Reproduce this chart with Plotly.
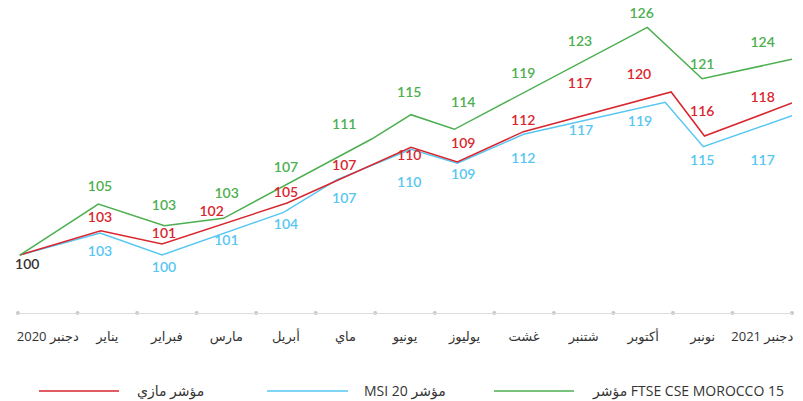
import plotly.graph_objects as go

# ---------------- data ----------------
months = ["2020 دجنبر", "يناير", "فبراير", "مارس", "أبريل", "ماي", "يونيو",
          "يوليوز", "غشت", "شتنبر", "أكتوبر", "نونبر", "2021 دجنبر"]

series_names = ["مؤشر مازي", "MSI 20 مؤشر", "مؤشر FTSE CSE MOROCCO 15"]
colors = ["#d9262e", "#56c6f2", "#4caf50"]

# line vertices (x in month units along the axis, y = index level)
masi_x = [0.03, 1.39, 2.42, 4.52, 6.60, 7.38, 8.49, 10.97, 11.53, 13.0]
masi_y = [100.0, 102.77, 101.26, 105.94, 112.29, 110.62, 114.08, 118.61, 113.58, 117.35]

msi_x = [0.03, 1.38, 2.42, 4.46, 5.36, 6.60, 7.38, 8.49, 10.87, 11.51, 13.0]
msi_y = [100.0, 102.51, 100.0, 104.87, 108.6, 112.07, 110.47, 113.78, 117.43, 112.36, 115.90]

ftse_x = [0.03, 1.35, 2.46, 3.45, 5.94, 6.60, 7.33, 10.57, 11.49, 13.0]
ftse_y = [100.0, 105.82, 103.34, 104.19, 113.24, 116.02, 114.35, 125.99, 120.12, 122.34]

# monthly values shown as labels
masi_vals = [103, 101, 102, 105, 107, 110, 109, 112, 117, 120, 116, 118]
msi_vals = [103, 100, 101, 104, 107, 110, 109, 112, 117, 119, 115, 117]
ftse_vals = [105, 103, 103, 107, 111, 115, 114, 119, 123, 126, 121, 124]
base_val = 100

# label anchors (data units)
masi_lx = [1.377, 2.452, 3.253, 4.501, 5.480, 6.572, 7.479, 8.487, 9.439, 10.430, 11.493, 12.507]
masi_ly = [104.19, 102.36, 104.87, 107.04, 110.08, 111.22, 112.64, 115.22, 119.49, 120.51, 116.29, 117.89]
msi_lx = [1.377, 2.452, 3.499, 4.501, 5.480, 6.572, 7.479, 8.487, 9.456, 10.447, 11.493, 12.507]
msi_ly = [100.31, 98.44, 101.56, 103.39, 106.36, 108.11, 109.05, 110.96, 114.12, 115.15, 110.70, 110.70]
ftse_lx = [1.377, 2.452, 3.505, 4.501, 5.480, 6.572, 7.479, 8.487, 9.439, 10.475, 11.493, 12.507]
ftse_ly = [107.73, 105.51, 106.93, 109.90, 114.81, 118.46, 117.32, 120.66, 124.28, 127.43, 121.66, 124.17]
base_lx, base_ly = 0.156, 98.82

Y_MIN, Y_MAX = 93.38, 129.11
X_MIN, X_MAX = 0, 13

fig = go.Figure()

lines = [(masi_x, masi_y), (msi_x, msi_y), (ftse_x, ftse_y)]
labels = [(masi_lx, masi_ly, masi_vals), (msi_lx, msi_ly, msi_vals), (ftse_lx, ftse_ly, ftse_vals)]

# draw blue, red, green order (green on top)
for i in [1, 0, 2]:
    xs, ys = lines[i]
    fig.add_trace(go.Scatter(x=xs, y=ys, mode="lines", name=series_names[i],
                             line=dict(color=colors[i], width=1.5),
                             showlegend=False, hoverinfo="skip", cliponaxis=False))

LABEL_FONT = "Lato, Open Sans, sans-serif"
for i in range(3):
    lx, ly, vals = labels[i]
    fig.add_trace(go.Scatter(x=lx, y=ly, mode="text", text=[str(v) for v in vals],
                             textposition="middle center",
                             textfont=dict(family=LABEL_FONT, size=14, color=colors[i], weight=600),
                             showlegend=False, hoverinfo="skip", cliponaxis=False))

fig.add_trace(go.Scatter(x=[base_lx], y=[base_ly], mode="text", text=[str(base_val)],
                         textposition="middle center",
                         textfont=dict(family=LABEL_FONT, size=14, color="#333333", weight=600),
                         showlegend=False, hoverinfo="skip", cliponaxis=False))

# axis boundary dots
fig.add_trace(go.Scatter(x=list(range(X_MIN, X_MAX + 1)), y=[Y_MIN] * (X_MAX - X_MIN + 1),
                         mode="markers", marker=dict(size=4, color="#c8c8c8"),
                         showlegend=False, hoverinfo="skip", cliponaxis=False))

# custom legend (paper coordinates)
LEG_Y = -0.249
legend_pos = [(0.0271, 0.1305, 0.1512), (0.3217, 0.4264, 0.4444), (0.6150, 0.7183, 0.7390)]
shapes = []
annotations = []
for i, (x0, x1, tx) in enumerate(legend_pos):
    shapes.append(dict(type="line", xref="paper", yref="paper", x0=x0, x1=x1, y0=LEG_Y, y1=LEG_Y,
                       line=dict(color=colors[i], width=1.5)))
    annotations.append(dict(xref="paper", yref="paper", x=tx, y=LEG_Y, xanchor="left", yanchor="middle",
                            text=series_names[i], showarrow=False,
                            font=dict(family="Open Sans, DejaVu Sans, sans-serif", size=14, color="#333333")))

fig.update_layout(
    width=803, height=401,
    margin=dict(l=18, r=11, t=0, b=88),
    plot_bgcolor="white", paper_bgcolor="white",
    showlegend=False,
    shapes=shapes, annotations=annotations,
    xaxis=dict(range=[X_MIN, X_MAX], tickmode="array",
               tickvals=[k + 0.5 for k in range(len(months))], ticktext=months,
               ticks="", showgrid=False, zeroline=False,
               showline=True, linecolor="#dcdcdc", linewidth=1,
               tickfont=dict(family="Open Sans, DejaVu Sans, sans-serif", size=13, color="#333333"),
               ticklabelstandoff=11, fixedrange=True),
    yaxis=dict(range=[Y_MIN, Y_MAX], visible=False, showgrid=False, zeroline=False, fixedrange=True),
)

fig.write_html("out.html",
               config={"displayModeBar": False, "staticPlot": True},
               post_script="document.body.style.margin='0';document.body.style.overflow='hidden';")
